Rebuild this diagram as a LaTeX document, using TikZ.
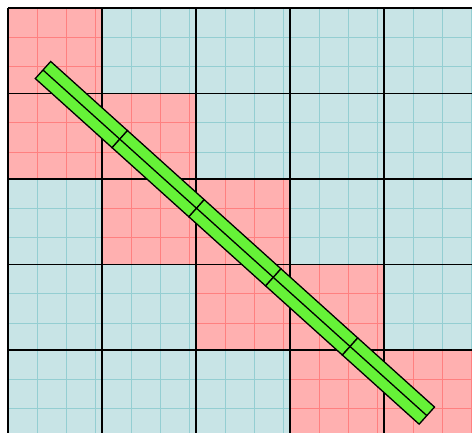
\documentclass[tikz,border=0pt]{standalone}
\definecolor{pinkc}{RGB}{255,176,176}
\definecolor{pinkl}{RGB}{255,128,128}
\definecolor{bluec}{RGB}{200,228,230}
\definecolor{bluel}{RGB}{148,206,210}
\definecolor{barg}{RGB}{102,242,56}
\tikzset{
  majorline/.style={black, line width=1.8pt},
  minorline/.style={line width=0.7pt},
  barseg/.style={draw=black, fill=barg, line width=1.3pt, line join=miter},
  barmid/.style={black, line width=1.3pt}
}
\begin{document}
\begin{tikzpicture}[x=1pt,y=-1pt]
\useasboundingbox (0,0) rectangle (472,432);
\fill[white] (0,0) rectangle (472,432);
\begin{scope}
\clip (0,0) rectangle (472,432);
\foreach \r in {0,...,4}{
  \foreach \c in {0,...,4}{
    \pgfmathtruncatemacro\d{\r-\c}
    \ifnum\d=0 \def\fc{pinkc}\def\lc{pinkl}\else
      \ifnum\d=1 \def\fc{pinkc}\def\lc{pinkl}\else
        \def\fc{bluec}\def\lc{bluel}\fi\fi
    \pgfmathsetmacro\xx{8+94*\c}
    \pgfmathsetmacro\yy{8+85.5*\r}
    \fill[\fc] (\xx,\yy) rectangle ++(94,85.5);
    \foreach \k in {1,2,3}{
      \draw[minorline,\lc] (\xx+29.2*\k,\yy) -- ++(0,85.5);
    }
    \foreach \k in {1,2}{
      \draw[minorline,\lc] (\xx,\yy+29.2*\k) -- ++(94,0);
    }
  }
}
\foreach \i in {0,...,4}{
  \draw[majorline] (8+94*\i,8) -- (8+94*\i,440);
  \draw[majorline] (8,8+85.5*\i) -- (480,8+85.5*\i);
}
\end{scope}
\begin{scope}[shift={(43,70)}, rotate=-42]
\foreach \i in {0,...,4}{
  \draw[barseg] (\i*103.3,-11.5) rectangle ++(103.3,23);
  \draw[barmid] (\i*103.3,0) -- ++(103.3,0);
}
\end{scope}
\end{tikzpicture}
\end{document}
